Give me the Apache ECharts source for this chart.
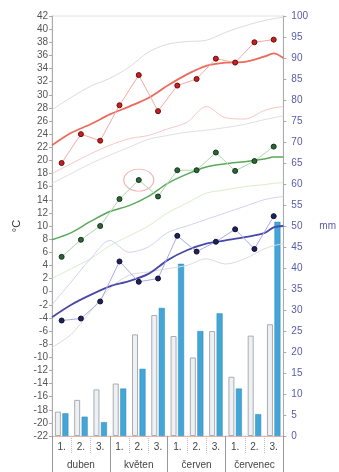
<!DOCTYPE html>
<html>
<head>
<meta charset="utf-8">
<script src="https://cdn.jsdelivr.net/npm/echarts@6/dist/echarts.min.js"></script>
<style>
  html, body { margin: 0; padding: 0; background: #fff; }
  #chart { width: 339px; height: 472px; }
</style>
</head>
<body>
<div id="chart"></div>
<script>
// Decades (1st, 2nd, 3rd) of each month, April to July
const decades = ['1.', '2.', '3.', '1.', '2.', '3.', '1.', '2.', '3.', '1.', '2.', '3.'];
const months = ['duben', 'květen', 'červen', 'červenec'];

// Decade temperatures of the season (°C)
const tMaxDecade = [19.6, 24.0, 23.0, 28.4, 33.0, 27.5, 31.4, 32.4, 35.5, 34.9, 38.0, 38.4];
const tMeanDecade = [5.3, 7.9, 10.0, 14.1, 17.0, 14.5, 18.5, 18.5, 21.2, 18.4, 19.9, 22.1];
const tMinDecade = [-4.4, -4.1, -1.5, 4.6, 1.5, 2.0, 8.5, 6.1, 7.6, 9.5, 6.5, 11.5];

// Highlighted decade (mean temperature)
const highlightDecade = 4;

// Decade precipitation (mm): long-term normal and measured
const rainNormal = [5.8, 8.6, 11.1, 12.5, 24.2, 28.8, 23.8, 18.7, 25.0, 14.1, 23.9, 26.6];
const rainMeasured = [5.4, 4.6, 3.3, 11.3, 16.0, 30.5, 41.0, 25.0, 29.2, 11.3, 5.2, 51.0];

// Positions along the season (in decades) for the long-term curves
const curveX = [0, 1, 2, 3, 4, 5, 6, 7, 8, 9, 10, 11, 11.5, 12];

// Long-term curves (°C)
const maxAvg = [22.3, 24.2, 25.5, 27.0, 28.2, 29.5, 31.4, 33.1, 34.4, 34.9, 35.0, 35.8, 36.3, 35.6];
const maxHigh = [27.7, 29.6, 31.3, 32.5, 34.2, 36.5, 37.7, 38.1, 38.3, 39.5, 40.5, 41.3, 41.6, 41.8];
const maxLow = [18.0, 19.5, 21.0, 22.3, 23.3, 23.8, 24.8, 25.8, 28.2, 26.5, 26.3, 27.6, 28.0, 28.2];
const meanAvg = [7.9, 9.0, 10.7, 12.2, 13.1, 14.5, 16.5, 17.9, 19.0, 19.5, 19.8, 20.2, 20.5, 20.5];
const meanHigh = [16.5, 18.0, 19.5, 20.8, 22.0, 23.2, 23.8, 24.3, 24.6, 25.0, 25.5, 26.2, 26.5, 26.8];
const meanLow = [2.0, 3.5, 5.0, 7.0, 8.5, 10.0, 12.0, 13.5, 15.0, 15.5, 16.0, 16.3, 16.5, 16.6];
const minAvg = [-3.9, -2.0, -0.5, 0.8, 1.6, 2.7, 4.8, 6.3, 7.3, 7.8, 8.3, 8.9, 9.8, 10.0];
const minHigh = [-2.0, 1.5, 5.0, 7.8, 6.0, 6.8, 9.0, 10.0, 11.0, 12.0, 13.0, 14.0, 14.3, 14.5];
const minLow = [-8.5, -6.5, -3.0, 0.5, 2.5, 3.0, 3.5, 4.0, 5.0, 4.2, 5.0, 6.5, 7.0, 7.3];

const pairs = arr => curveX.map((x, i) => [x, arr[i]]);

function curve(name, values, color, width) {
  return {
    name, type: 'line', xAxisIndex: 2, yAxisIndex: 0,
    data: pairs(values), smooth: 0.3, symbol: 'none', silent: true,
    lineStyle: { color, width }, z: 3
  };
}

function decadePoints(name, values, dot, edge, link) {
  return {
    name, type: 'line', xAxisIndex: 0, yAxisIndex: 0,
    data: values, symbol: 'circle', symbolSize: 5,
    itemStyle: { color: dot, borderColor: edge, borderWidth: 1 },
    lineStyle: { color: link, width: 1 }, z: 5
  };
}

const chart = echarts.init(document.getElementById('chart'));
chart.setOption({
  animation: false,
  backgroundColor: '#fff',
  textStyle: { fontFamily: 'Liberation Sans, Arial, sans-serif' },
  grid: {
    left: 52, right: 49, top: 16, bottom: 36,
    show: true, borderColor: '#e2e2e2', borderWidth: 1, backgroundColor: 'transparent'
  },
  xAxis: [
    {
      type: 'category', data: decades, position: 'bottom',
      axisLine: { show: true, onZero: false, lineStyle: { color: '#e8b4ac', width: 1 } },
      axisTick: { show: true, interval: 0, length: 18, lineStyle: { color: '#bbb', type: 'dotted' } },
      axisLabel: { interval: 0, fontSize: 10, color: '#444', margin: 6 },
      splitLine: { show: false }
    },
    {
      type: 'category', data: months, position: 'bottom',
      axisLine: { show: false, onZero: false },
      axisTick: { show: true, interval: 0, length: 36, lineStyle: { color: '#999' } },
      axisLabel: { interval: 0, fontSize: 10, color: '#444', margin: 24 },
      splitLine: { show: false }
    },
    { type: 'value', min: 0, max: 12, show: false }
  ],
  yAxis: [
    {
      type: 'value', min: -22, max: 42, interval: 2, position: 'left',
      axisLine: { show: true, lineStyle: { color: '#aaa' } },
      axisTick: { show: true, length: 3, lineStyle: { color: '#aaa' } },
      axisLabel: { fontSize: 10, color: '#555', margin: 4 },
      splitLine: { show: false },
      name: '°C', nameLocation: 'middle', nameRotate: 90, nameGap: 26,
      nameTextStyle: { fontSize: 11, color: '#333' }
    },
    {
      type: 'value', min: 0, max: 100, interval: 5, position: 'right',
      axisLine: { show: true, lineStyle: { color: '#aaa' } },
      axisTick: { show: true, length: 3, lineStyle: { color: '#aaa' } },
      axisLabel: { fontSize: 10, color: '#5a5aa8', margin: 8 },
      splitLine: { show: false },
      name: 'mm', nameLocation: 'middle', nameRotate: 0, nameGap: 36,
      nameTextStyle: { fontSize: 10, color: '#5a5aa8' }
    }
  ],
  series: [
    {
      name: 'normál', type: 'bar', xAxisIndex: 0, yAxisIndex: 1,
      data: rainNormal, barWidth: 6, barGap: '25%',
      itemStyle: { color: '#eef1f4', borderColor: '#a9acb2', borderWidth: 1 }, z: 2
    },
    {
      name: 'srážky', type: 'bar', xAxisIndex: 0, yAxisIndex: 1,
      data: rainMeasured, barWidth: 6,
      itemStyle: { color: '#44a6d6', borderColor: '#2f88b8', borderWidth: 0.5 }, z: 2
    },
    curve('max horní', maxHigh, '#dcdcdc', 1),
    curve('max dolní', maxLow, '#f6c8c4', 1),
    curve('max průměr', maxAvg, '#ec6a5c', 1.8),
    curve('průměr horní', meanHigh, '#e0e0e0', 1),
    curve('průměr dolní', meanLow, '#dcecc8', 1),
    curve('průměr', meanAvg, '#5aa85a', 1.5),
    curve('min horní', minHigh, '#d2d2f2', 1),
    curve('min dolní', minLow, '#dcdcdc', 1),
    curve('min průměr', minAvg, '#4848a8', 1.8),
    decadePoints('max', tMaxDecade, '#c81f1f', '#6a0c0c', '#f4aaa6'),
    decadePoints('průměr dekády', tMeanDecade, '#2a6636', '#16351d', '#acd8ac'),
    decadePoints('min', tMinDecade, '#20205a', '#10102e', '#aaaae8'),
    {
      name: 'zvýraznění', type: 'scatter', xAxisIndex: 0, yAxisIndex: 0,
      data: [[highlightDecade, tMeanDecade[highlightDecade]]],
      symbol: 'circle', symbolSize: [30, 22], silent: true,
      itemStyle: { color: 'rgba(0,0,0,0)', borderColor: '#f19a9a', borderWidth: 1 }, z: 4
    }
  ]
});
</script>
</body>
</html>
